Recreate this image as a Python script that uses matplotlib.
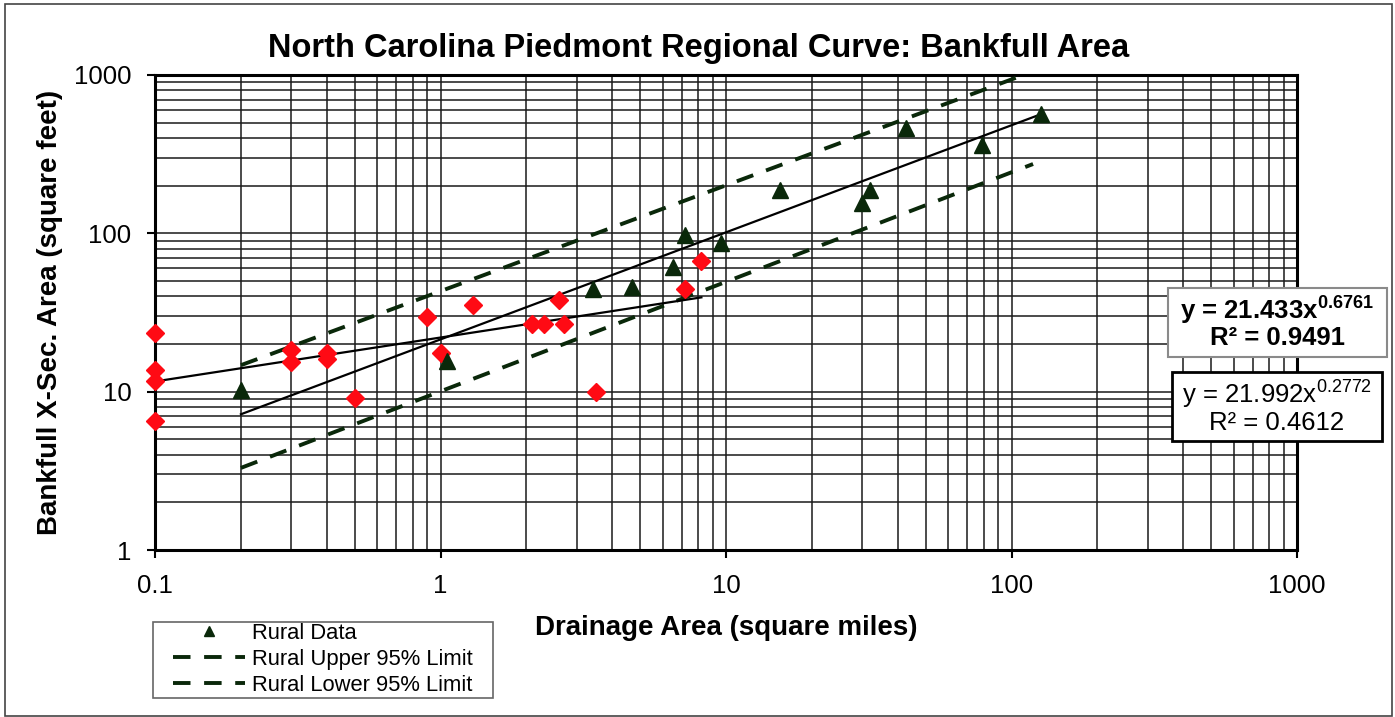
"""
North Carolina Piedmont regional curve (bankfull area), redrawn.

    python plot.py   ->  out.png
"""
import matplotlib
matplotlib.use("Agg")
import matplotlib.pyplot as plt
from matplotlib.patches import Rectangle
from matplotlib.ticker import LogLocator, NullFormatter

plt.rcParams["font.family"] = ["Liberation Sans", "DejaVu Sans"]
plt.rcParams["mathtext.fontset"] = "custom"
plt.rcParams["mathtext.rm"] = "Liberation Sans"
plt.rcParams["mathtext.bf"] = "Liberation Sans:bold"

# rural gauge data (drainage area mi^2, bankfull area ft^2)
rural_x = [0.2, 1.05, 3.42, 4.69, 6.52, 7.18, 9.6, 15.5, 29.9, 31.9, 42.7, 78.8, 127]
rural_y = [10.3, 15.6, 44.5, 45.5, 61.5, 97.7, 87.5, 188, 155, 188, 463, 362, 570]

# urban data (red diamonds)
urban_x = [0.1, 0.1, 0.1, 0.1, 0.3, 0.3, 0.4, 0.4, 0.5, 0.9,
           1.0, 1.3, 2.1, 2.3, 2.6, 2.7, 3.5, 7.2, 8.2]
urban_y = [23.4, 13.8, 11.6, 6.5, 18.2, 15.3, 17.5, 16.0, 9.1, 29.5,
           17.6, 35.3, 26.9, 26.9, 37.9, 26.8, 9.9, 44.3, 66.5]

# end points of the straight (log-log) lines
rural_fit_x, rural_fit_y = [0.2, 127], [7.2, 566]
urban_fit_x, urban_fit_y = [0.1, 8.2], [11.6, 39.4]
upper_x, upper_y = [0.2, 127], [14.7, 1100]
lower_x, lower_y = [0.2, 119], [3.3, 274]

x_ticks = [0.1, 1, 10, 100, 1000]
x_labels = ["0.1", "1", "10", "100", "1000"]
y_ticks = [1, 10, 100, 1000]
y_labels = ["1", "10", "100", "1000"]

rural_eq = ("y = 21.433x$^{\\mathbf{0.6761}}$", "R² = 0.9491")
urban_eq = ("y = 21.992x$^{0.2772}$", "R² = 0.4612")

DKGREEN = "#0a280a"
RED = "#ff0a14"
W, H = 1395, 717


def fx(px):
    return px / W


def fy(py):
    return 1 - py / H


fig = plt.figure(figsize=(W / 100, H / 100), dpi=100)
ax = fig.add_axes([fx(155), fy(550), (1297 - 155) / W, (550 - 75) / H])
ax.set_xscale("log"); ax.set_yscale("log")
ax.set_xlim(0.1, 1000); ax.set_ylim(1, 1000)

for axis in (ax.xaxis, ax.yaxis):
    axis.set_minor_locator(LogLocator(base=10, subs=range(2, 10)))
    axis.set_minor_formatter(NullFormatter())
ax.set_xticks(x_ticks, x_labels)
ax.set_yticks(y_ticks, y_labels)
ax.grid(which="both", color="#1a1a1a", lw=1.1)
ax.set_axisbelow(True)
ax.tick_params(which="major", direction="out", length=6, width=1.5,
               labelsize=18.5, pad=11)
ax.tick_params(which="minor", length=0)
for s in ax.spines.values():
    s.set_linewidth(2.2)

dash = (0, (4.5, 3.5))
ax.plot(upper_x, upper_y, color=DKGREEN, lw=2.8, ls=dash, label="Rural Upper 95% Limit", zorder=3)
ax.plot(lower_x, lower_y, color=DKGREEN, lw=2.8, ls=dash, label="Rural Lower 95% Limit", zorder=3)
ax.plot(rural_fit_x, rural_fit_y, color="black", lw=1.6, zorder=3)
ax.plot(urban_fit_x, urban_fit_y, color="black", lw=1.6, zorder=3)
ax.plot(urban_x, urban_y, ls="none", marker="D", ms=9.5, color=RED, mec=RED, zorder=4, clip_on=False)
ax.plot(rural_x, rural_y, ls="none", marker="^", ms=11, color=DKGREEN, mec=DKGREEN,
        label="Rural Data", zorder=5, clip_on=False)

fig.text(0.501, fy(57), "North Carolina Piedmont Regional Curve: Bankfull Area",
         ha="center", va="baseline", fontsize=23.5, fontweight="bold")
fig.text(fx(726), fy(635), "Drainage Area (square miles)",
         ha="center", va="baseline", fontsize=20, fontweight="bold")
fig.text(fx(50), fy(312), "Bankfull X-Sec. Area (square feet)", rotation=90,
         ha="center", va="center", fontsize=20, fontweight="bold")

# equation boxes (sit partly outside the plot area)
fig.patches.append(Rectangle((fx(1168), fy(357)), (1387 - 1168) / W, (357 - 288) / H,
                             transform=fig.transFigure, fc="white", ec="#8a8a8a", lw=1.5, zorder=6))
fig.patches.append(Rectangle((fx(1172), fy(441)), (1382 - 1172) / W, (441 - 372) / H,
                             transform=fig.transFigure, fc="white", ec="black", lw=2, zorder=6))
fig.text(fx(1277), fy(310), rural_eq[0], ha="center", va="center", fontsize=18.5, fontweight="bold", zorder=7)
fig.text(fx(1277), fy(338), rural_eq[1], ha="center", va="center", fontsize=18.5, fontweight="bold", zorder=7)
fig.text(fx(1277), fy(394), urban_eq[0], ha="center", va="center", fontsize=18.5, zorder=7)
fig.text(fx(1277), fy(423), urban_eq[1], ha="center", va="center", fontsize=18.5, zorder=7)

# legend: frame drawn separately so the content can sit where the original has it
h, l = ax.get_legend_handles_labels()
order = [l.index("Rural Data"), l.index("Rural Upper 95% Limit"), l.index("Rural Lower 95% Limit")]
fig.legend([h[i] for i in order], [l[i] for i in order], loc="upper left",
           bbox_to_anchor=(fx(173), fy(623)), bbox_transform=fig.transFigure,
           frameon=False, borderpad=0, borderaxespad=0, fontsize=15.8,
           handlelength=3.3, handletextpad=0.3, labelspacing=0.22, markerscale=0.7)
fig.patches.append(Rectangle((fx(153), fy(698)), (493 - 153) / W, (698 - 622) / H,
                             transform=fig.transFigure, fill=False, ec="#666666", lw=1.2))

# outer border round the whole chart
fig.patches.append(Rectangle((fx(5), fy(716)), (1392 - 5) / W, (716 - 4) / H,
                             transform=fig.transFigure, fill=False, ec="#444444", lw=1.2))

fig.savefig("out.png", dpi=100)
